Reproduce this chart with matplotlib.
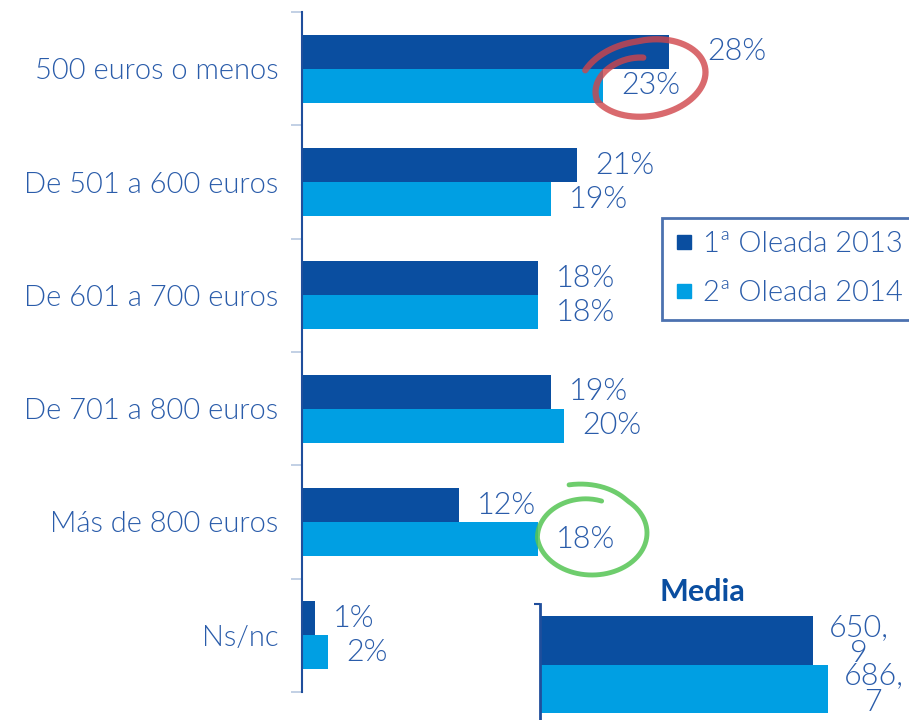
import matplotlib
matplotlib.use("Agg")
import matplotlib.pyplot as plt
import numpy as np
from matplotlib.lines import Line2D

plt.rcParams['font.family'] = ['Lato', 'DejaVu Sans']
plt.rcParams['font.weight'] = 300

categories = ["500 euros o menos", "De 501 a 600 euros", "De 601 a 700 euros",
              "De 701 a 800 euros", "Más de 800 euros", "Ns/nc"]
oleada_2013 = [28, 21, 18, 19, 12, 1]
oleada_2014 = [23, 19, 18, 20, 18, 2]
series_names = ["1ª Oleada 2013", "2ª Oleada 2014"]
media_values = [650.9, 686.7]
media_labels = ["650,\n9", "686,\n7"]

dark = "#0A4EA0"
light = "#009FE3"
txt = "#2A5CAA"
W, H = 909, 720

fig = plt.figure(figsize=(W / 100, H / 100), dpi=100)

# main chart
ax = fig.add_axes([302 / W, 28 / H, (W - 302) / W, 680 / H])
y = np.arange(len(categories))
ax.barh(y - 0.15, oleada_2013, height=0.3, color=dark, label=series_names[0])
ax.barh(y + 0.15, oleada_2014, height=0.3, color=light, label=series_names[1])
ax.set_xlim(0, (W - 302) / 13.1)
ax.set_ylim(5.5, -0.5)
ax.set_yticks(y)
ax.set_yticklabels(categories, fontsize=21, color=txt)
ax.set_yticks(np.arange(-0.5, 6, 1), minor=True)
ax.tick_params(axis='y', which='major', length=0, pad=17)
ax.tick_params(axis='y', which='minor', length=8, color="#B8C8E0", width=1.2)
ax.set_xticks([])
for s in ["top", "right", "bottom"]:
    ax.spines[s].set_visible(False)
ax.spines["left"].set_color("#1F4E9C")
ax.spines["left"].set_linewidth(1.5)

# value labels (28% was pushed aside in the original)
nudge = {(0, 0): 20}
for i, (a, b) in enumerate(zip(oleada_2013, oleada_2014)):
    for k, (v, yy) in enumerate([(a, i - 0.15), (b, i + 0.15)]):
        ax.annotate(f"{v}%", (v, yy), xytext=(18 + nudge.get((i, k), 0), 0),
                    textcoords="offset pixels", ha="left", va="center",
                    fontsize=22, color=txt)

# legend
handles = [Line2D([], [], marker="s", ls="", color=dark, markersize=10),
           Line2D([], [], marker="s", ls="", color=light, markersize=10)]
leg = fig.legend(handles, series_names, loc="upper left",
                 bbox_to_anchor=(662 / W, 1 - 218 / H), fontsize=21,
                 frameon=True, fancybox=False, edgecolor="#1F4E9C",
                 handlelength=0.6, handletextpad=0.35, labelspacing=0.8,
                 borderpad=0.45, borderaxespad=0)
for t in leg.get_texts():
    t.set_color(txt)
leg.get_frame().set_linewidth(2)

# inset "Media"
ax2 = fig.add_axes([540 / W, 0, (W - 540) / W, 116 / H])
ax2.barh([0], [media_values[0]], height=1.0, color=dark)
ax2.barh([1], [media_values[1]], height=1.0, color=light)
ax2.set_xlim(0, (W - 540) / 0.42)
ax2.set_ylim(1.64, -0.753)
ax2.set_xticks([])
ax2.set_yticks([-0.753])
ax2.set_yticklabels([])
ax2.tick_params(axis='y', length=4, color="#1F4E9C", width=1.5)
for s in ["top", "right", "bottom"]:
    ax2.spines[s].set_visible(False)
ax2.spines["left"].set_color("#1F4E9C")
ax2.spines["left"].set_linewidth(2)
ax2.patch.set_alpha(0)
for i, (v, lab) in enumerate(zip(media_values, media_labels)):
    ax2.annotate(lab, (v, i), xytext=(45, 0), textcoords="offset pixels",
                 ha="center", va="center", multialignment="center",
                 linespacing=0.9, fontsize=22, color=txt)
fig.text(702 / W, 1 - 592 / H, "Media", ha="center", va="center",
         fontsize=22, fontweight="bold", color=dark)

# hand-drawn circles
ov = fig.add_axes([0, 0, 1, 1])
ov.set_xlim(0, W)
ov.set_ylim(H, 0)
ov.axis("off")


def spiral(cx, cy, a, b, ang, t0, t1, s0, s1, smid, **kw):
    t = np.linspace(t0, t1, 300)
    s = np.interp(t, [t0, t0 + 60, t1 - 110, t1], [s0, smid, smid, s1])
    tr = np.radians(t)
    x = a * s * np.cos(tr)
    yv = b * s * np.sin(tr)
    r = np.radians(ang)
    ov.plot(cx + x * np.cos(r) - yv * np.sin(r),
            cy + x * np.sin(r) + yv * np.cos(r), solid_capstyle="round", **kw)


spiral(648, 78, 58, 38, -10, 205, 628, 1.15, 0.55, 1.0,
       color="#D0454A", lw=4.5, alpha=0.8)
spiral(592, 533, 55, 42, 0, 250, 643, 1.22, 0.78, 1.0,
       color="#55C553", lw=3.5, alpha=0.85)

fig.savefig("out.png", dpi=100)
